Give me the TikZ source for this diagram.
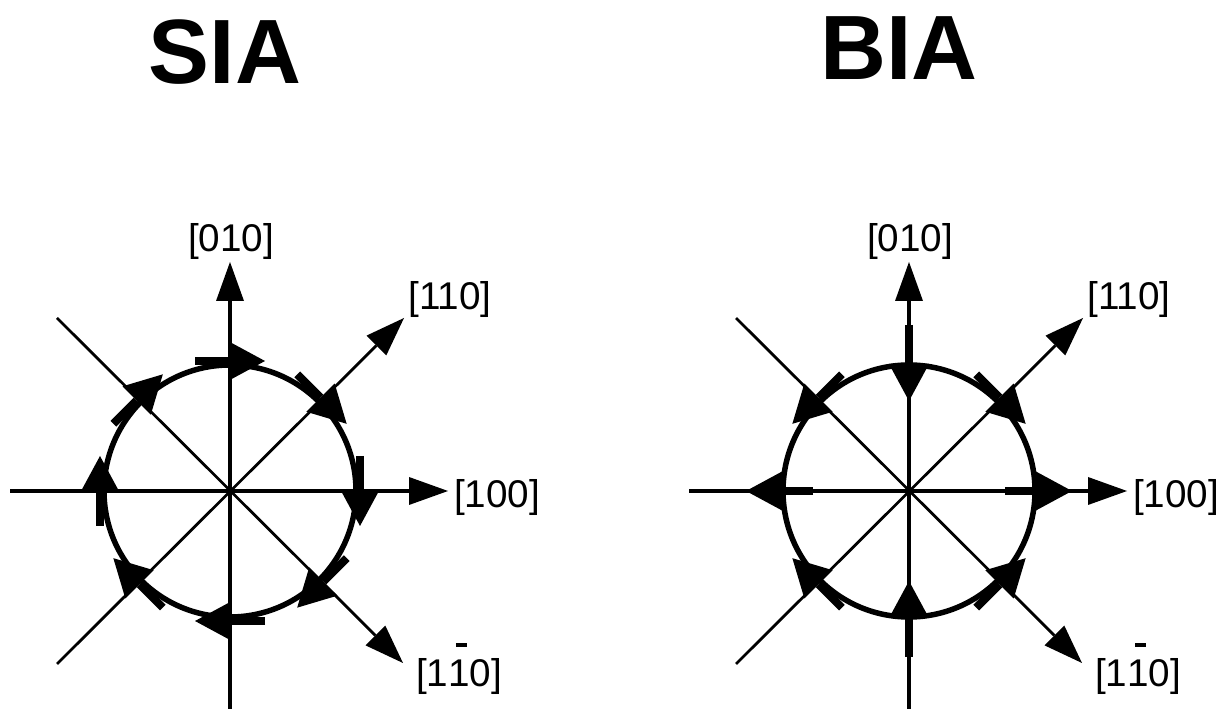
\documentclass[tikz,border=0pt]{standalone}
\usepackage{fontspec}
\setmainfont{Liberation Sans}
\usetikzlibrary{arrows.meta,calc}

% bar over a digit, set high as in the figure
\newcommand{\barred}[1]{\makebox[0pt][l]{\hspace{0.2em}\raisebox{1.04em}{\rule{0.28em}{0.1em}}}#1}

\tikzset{
  axisarrow/.style={line width=0.065cm, -{Triangle[length=0.78cm,width=0.56cm,line width=0pt]}},
  diagarrow/.style={line width=0.055cm, -{Triangle[length=0.78cm,width=0.56cm,line width=0pt]}},
  ring/.style={line width=0.11cm},
  spinarrow/.style={line width=0.16cm, -{Triangle[length=0.74cm,width=0.8cm,line width=0pt]}},
  dirlabel/.style={font=\fontsize{22}{26}\selectfont, inner sep=0pt, anchor=base},
  headline/.style={font=\fontsize{52}{60}\selectfont\bfseries, inner sep=0pt, anchor=base}
}

\begin{document}
\begin{tikzpicture}[x=0.02cm, y=0.02cm]
    \useasboundingbox (0,0) rectangle (1226,709);

    % Titles
    \node[headline] (siatitle) at (225,625) {SIA};
    \node[headline] (biatitle) at (899,629) {BIA};

    % Centres of the two diagrams
    \coordinate (sia) at (230,218);
    \coordinate (bia) at (909,218);

    % Axes, circle and direction labels (same for both)
    \foreach \c in {sia,bia} {
      \begin{scope}[shift={(\c)}]
        \coordinate (\c-w) at (-220,0);
        \coordinate (\c-e) at (218,0);
        \coordinate (\c-s) at (0,-222);
        \coordinate (\c-n) at (0,229);
        \coordinate (\c-nw) at (-173,173);
        \coordinate (\c-se) at (173,-172);
        \coordinate (\c-sw) at (-173,-173);
        \coordinate (\c-ne) at (174,173);
        \draw[axisarrow] (\c-w) -- (\c-e);
        \draw[axisarrow] (\c-s) -- (\c-n);
        \draw[diagarrow] (\c-sw) -- (\c-ne);
        \draw[diagarrow] (\c-nw) -- (\c-se);
        \draw[ring] (0,0) circle (126);
        \node[dirlabel] (\c-l010) at (1,239) {[010]};
        \node[dirlabel] (\c-l110) at (220,181) {[110]};
        \node[dirlabel] (\c-l100) at (267,-17) {[100]};
        \node[dirlabel] (\c-l1b10) at (229,-196) {[1\barred{1}0]};
      \end{scope}
    }

    % SIA: all spins turn clockwise
    \begin{scope}[shift={(sia)}]
      \foreach \a in {0,45,...,315}
        \draw[spinarrow] (\a:130) ++(\a+90:35) -- ++(\a-90:70);
    \end{scope}

    % BIA: radial on the axes, tangential on the diagonals
    \begin{scope}[shift={(bia)}]
      \foreach \a in {90,270}
        \draw[spinarrow] (\a:166) -- (\a:90);
      \foreach \a in {0,180}
        \draw[spinarrow] (\a:96) -- (\a:163);
      \foreach \a/\t in {45/-90,135/90,225/-90,315/90}
        \draw[spinarrow] (\a:130) ++(\a-\t:35) -- ++(\a+\t:70);
    \end{scope}
\end{tikzpicture}
\end{document}
